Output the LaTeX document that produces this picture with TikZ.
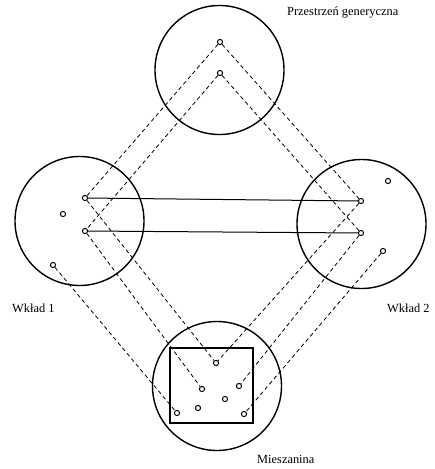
\documentclass[tikz,border=0pt]{standalone}
\usepackage{fontspec}
\setmainfont{Liberation Serif}
\usetikzlibrary{positioning}

\begin{document}
\begin{tikzpicture}[
    x=1pt, y=-1pt,
    font=\fontsize{12.4}{14}\selectfont,
    % --- mental space (big circle) ---
    space/.style={circle, draw, line width=1.4pt, minimum size=129pt, inner sep=0pt},
    % --- element inside a space ---
    dot/.style={circle, draw, line width=1pt, minimum size=5.2pt, inner sep=0pt, fill=white},
    % --- cross-space mapping ---
    map/.style={dash pattern=on 4pt off 3pt, line width=0.8pt},
    link/.style={line width=1pt},
    caption/.style={anchor=west, inner sep=0pt},
  ]
  \useasboundingbox (0,0) rectangle (435,469);

  % ---- SPACES -------------------------------------------------------------
  \node[space] (generic) at (219.5,70) {};
  \node[space] (input1) at (79.5,221) {};
  \node[space] (input2) at (361.5,224) {};
  \node[space] (blend) at (217,386) {};
  \node[draw, line width=1.4pt, minimum width=83pt, minimum height=75pt,
        inner sep=0pt] (frame) at (211.5,385.5) {};

  \node[caption] (lgeneric) at (287,13) {Przestrzeń generyczna};
  \node[caption] (linput1) at (12,308) {Wkład 1};
  \node[caption] (linput2) at (387,308) {Wkład 2};
  \node[caption] (lblend) at (257,459) {Mieszanina};

  % ---- ELEMENTS -----------------------------------------------------------
  \node[dot] (g1) at (220,42) {};
  \node[dot] (g2) at (220,73) {};

  \node[dot] (a1) at (85,198) {};
  \node[dot] (a2) at (85,231) {};
  \node[dot] (a3) at (63,214) {};
  \node[dot] (a4) at (53,265) {};

  \node[dot] (b1) at (361,201) {};
  \node[dot] (b2) at (361,233) {};
  \node[dot] (b3) at (388,181) {};
  \node[dot] (b4) at (383,251) {};

  \node[dot] (m1) at (216,363) {};
  \node[dot] (m2) at (202,389) {};
  \node[dot] (m3) at (239,386) {};
  \node[dot] (m4) at (225,399) {};
  \node[dot] (m5) at (198,408) {};
  \node[dot] (m6) at (177,413) {};
  \node[dot] (m7) at (244,414) {};

  % ---- CROSS-SPACE LINKS --------------------------------------------------
  \draw[link] (a1) -- (b1);
  \draw[link] (a2) -- (b2);

  % generic -> inputs
  \draw[map] (g1) -- (a1);
  \draw[map] (g1) -- (b1);
  \draw[map] (g2) -- (a2);
  \draw[map] (g2) -- (b2);

  % inputs -> blend
  \draw[map] (a1) -- (m1);
  \draw[map] (b1) -- (m1);
  \draw[map] (a2) -- (m2);
  \draw[map] (b2) -- (m3);
  \draw[map] (a4) -- (m6);
  \draw[map] (b4) -- (m7);

\end{tikzpicture}
\end{document}
